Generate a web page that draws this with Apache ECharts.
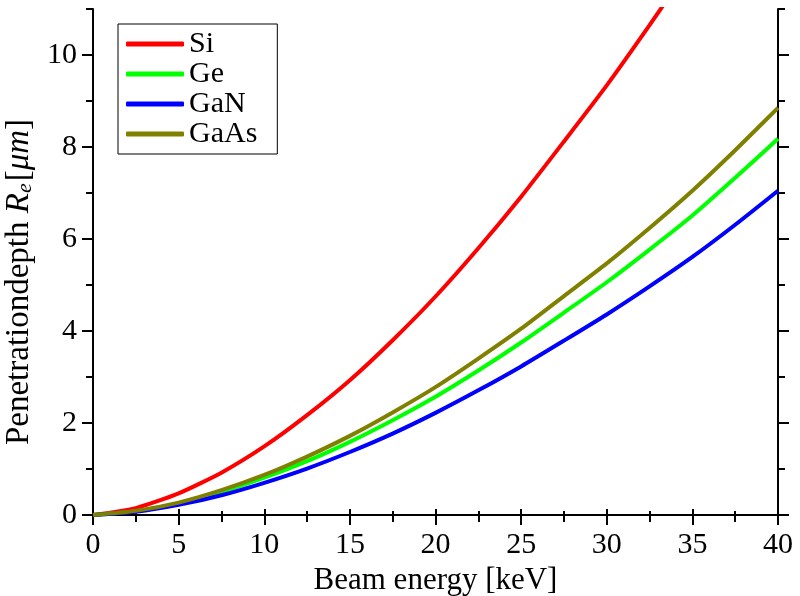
<!DOCTYPE html>
<html>
<head>
<meta charset="utf-8">
<script src="https://cdn.jsdelivr.net/npm/echarts@6/dist/echarts.min.js"></script>
<style>
  html, body { margin: 0; padding: 0; background: #fff; }
  #chart { width: 800px; height: 596px; }
</style>
</head>
<body>
<div id="chart"></div>
<script>
// beam energy in keV
const energies = [0, 2.5, 5, 7.5, 10, 12.5, 15, 17.5, 20, 22.5, 25, 27.5, 30, 32.5, 35, 37.5, 40];

// penetration depth in um
const siDepth   = [0, 0.15, 0.47, 0.92, 1.49, 2.17, 2.93, 3.80, 4.75, 5.80, 6.92, 8.12, 9.34, 10.65, 12.0, null, null];
const geDepth   = [0, 0.08, 0.25, 0.50, 0.81, 1.17, 1.59, 2.06, 2.57, 3.14, 3.75, 4.40, 5.06, 5.77, 6.51, 7.33, 8.18];
const ganDepth  = [0, 0.07, 0.22, 0.43, 0.70, 1.01, 1.37, 1.77, 2.22, 2.71, 3.23, 3.79, 4.36, 4.97, 5.61, 6.31, 7.05];
const gaasDepth = [0, 0.09, 0.27, 0.54, 0.87, 1.27, 1.72, 2.23, 2.78, 3.40, 4.05, 4.76, 5.47, 6.24, 7.05, 7.93, 8.85];

const seriesNames = ['Si', 'Ge', 'GaN', 'GaAs'];
const seriesColors = ['#ff0000', '#00ff00', '#0000ff', '#808000'];
const yTicks = [0, 2, 4, 6, 8, 10];

const font = 'Liberation Serif';

function pairUp(ys) {
  return energies.map(function (x, i) { return [x, ys[i]]; });
}

function makeSeries(name, ys, color) {
  return {
    name: name,
    type: 'line',
    data: pairUp(ys),
    xAxisIndex: 0,
    yAxisIndex: 0,
    showSymbol: false,
    smooth: 0.2,
    clip: true,
    color: color,
    lineStyle: { width: 4, color: color },
    z: 5
  };
}

const axisLine = { lineStyle: { color: '#000', width: 2 } };

const chart = echarts.init(document.getElementById('chart'), null, { renderer: 'canvas' });

chart.setOption({
  backgroundColor: '#fff',
  animation: false,
  grid: { left: 93, right: 22, top: 9, bottom: 81, containLabel: false, outerBoundsMode: 'none' },
  legend: {
    left: 118,
    top: 24,
    orient: 'vertical',
    data: seriesNames.map(function (n) { return { name: n, icon: 'roundRect' }; }),
    itemWidth: 58,
    itemHeight: 5,
    itemGap: 0,
    padding: [5, 20, 5, 8],
    borderColor: '#000',
    borderWidth: 1,
    borderRadius: 0,
    backgroundColor: '#fff',
    textStyle: { fontFamily: font, fontSize: 30, lineHeight: 30, color: '#000' }
  },
  xAxis: [
    {
      type: 'value', position: 'bottom', min: 0, max: 40, interval: 5,
      name: 'Beam energy [keV]', nameLocation: 'middle', nameGap: 48,
      nameTextStyle: { fontFamily: font, fontSize: 31, color: '#000' },
      axisLine: axisLine,
      axisTick: { inside: false, length: 10, lineStyle: { color: '#000', width: 2 } },
      minorTick: { show: true, splitNumber: 2, length: 7, lineStyle: { color: '#000', width: 2 } },
      axisLabel: { margin: 15, fontFamily: font, fontSize: 30, color: '#000' },
      splitLine: { show: false }
    },
    {
      type: 'value', position: 'top', min: 0, max: 40, interval: 5,
      axisLine: axisLine,
      axisTick: { inside: false, length: 6, lineStyle: { color: '#000', width: 2 } },
      minorTick: { show: true, splitNumber: 2, length: 4, lineStyle: { color: '#000', width: 2 } },
      axisLabel: { show: false },
      splitLine: { show: false }
    }
  ],
  yAxis: [
    {
      type: 'value', position: 'left', min: 0, max: 11, interval: 2,
      name: '{n|Penetrationdepth }{i|R}{s|e}{n|[}{i|μm}{n|]}',
      nameLocation: 'middle', nameGap: 44,
      nameTextStyle: {
        fontFamily: font, fontSize: 33, color: '#000', padding: [0, 40, 0, 0],
        rich: {
          n: { fontFamily: font, fontSize: 33, color: '#000' },
          i: { fontFamily: font, fontSize: 33, fontStyle: 'italic', color: '#000' },
          s: { fontFamily: font, fontSize: 22, fontStyle: 'italic', color: '#000', padding: [12, 2, 0, 0] }
        }
      },
      axisLine: axisLine,
      axisTick: { inside: false, length: 11, customValues: yTicks, lineStyle: { color: '#000', width: 2 } },
      axisLabel: { margin: 16, customValues: yTicks, fontFamily: font, fontSize: 30, color: '#000' },
      splitLine: { show: false }
    },
    {
      type: 'value', position: 'left', min: 0, max: 11, interval: 1,
      axisLine: { show: false },
      axisTick: { inside: false, length: 7, lineStyle: { color: '#000', width: 2 } },
      axisLabel: { show: false },
      splitLine: { show: false }
    },
    {
      type: 'value', position: 'right', min: 0, max: 11, interval: 2,
      axisLine: axisLine,
      axisTick: { inside: false, length: 11, customValues: yTicks, lineStyle: { color: '#000', width: 2 } },
      axisLabel: { show: false },
      splitLine: { show: false }
    },
    {
      type: 'value', position: 'right', min: 0, max: 11, interval: 1,
      axisLine: { show: false },
      axisTick: { inside: false, length: 7, lineStyle: { color: '#000', width: 2 } },
      axisLabel: { show: false },
      splitLine: { show: false }
    }
  ],
  series: [
    makeSeries(seriesNames[0], siDepth, seriesColors[0]),
    makeSeries(seriesNames[1], geDepth, seriesColors[1]),
    makeSeries(seriesNames[2], ganDepth, seriesColors[2]),
    makeSeries(seriesNames[3], gaasDepth, seriesColors[3])
  ]
});
</script>
</body>
</html>
